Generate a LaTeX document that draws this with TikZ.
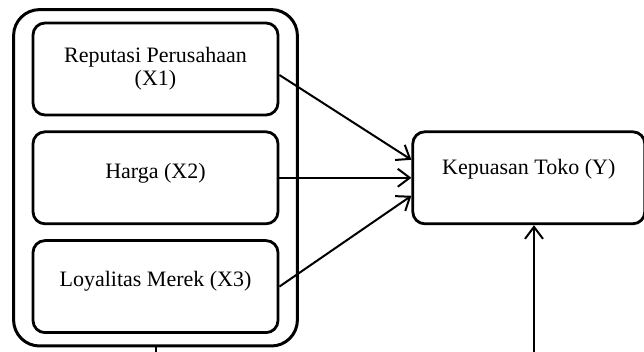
\documentclass[tikz,border=0pt]{standalone}
\usepackage{fontspec}
\setmainfont{Liberation Serif}
\usepackage{tikz}
\usetikzlibrary{
  arrows.meta,
  fit,
  positioning
}
\tikzset{
  varbox/.style={draw=black,line width=1.4pt,rounded corners=6pt,
    minimum width=122.5pt,minimum height=46pt,align=center,
    inner sep=3pt,font=\fontsize{11}{11.5}\selectfont},
  groupbox/.style={draw=black,line width=1.5pt,rounded corners=13pt,
    inner xsep=9pt,inner ysep=6pt},
  depbox/.style={varbox,minimum width=116pt},
  flow/.style={-{Straight Barb[length=6pt,width=9pt]},line width=1pt},
  link/.style={line width=1pt}
}

\begin{document}
\begin{tikzpicture}[x=0.5pt,y=-0.5pt,node distance=7pt and 66pt]
  \useasboundingbox (0,0) rectangle (644,352);
  \node[varbox] (rep) at (155.5,69) {Reputasi Perusahaan\\(X1)};
  \node[varbox,text depth=7pt,below=of rep] (har) {Harga (X2)};
  \node[varbox,text depth=8pt,below=of har] (loy) {Loyalitas Merek (X3)};
  \node[groupbox,fit=(rep) (har) (loy)] (grp) {};
  \node[depbox,text depth=10.5pt,right=of har] (kep) {Kepuasan Toko (Y)};
  % free ends at the lower edge
  \coordinate (base) at (0,352);
  \coordinate (downl) at (grp.south |- base);
  \coordinate (downr) at (534,352);
  \draw[flow] ([yshift=-3pt]rep.east) -- ([yshift=9pt]kep.west);
  \draw[flow] (har.east) -- (kep.west);
  \draw[flow] (loy.east) -- ([yshift=-9pt]kep.west);
  \draw[link] (grp.south) -- (downl);
  \draw[flow] (downr) -- (downr |- kep.south);
\end{tikzpicture}
\end{document}
